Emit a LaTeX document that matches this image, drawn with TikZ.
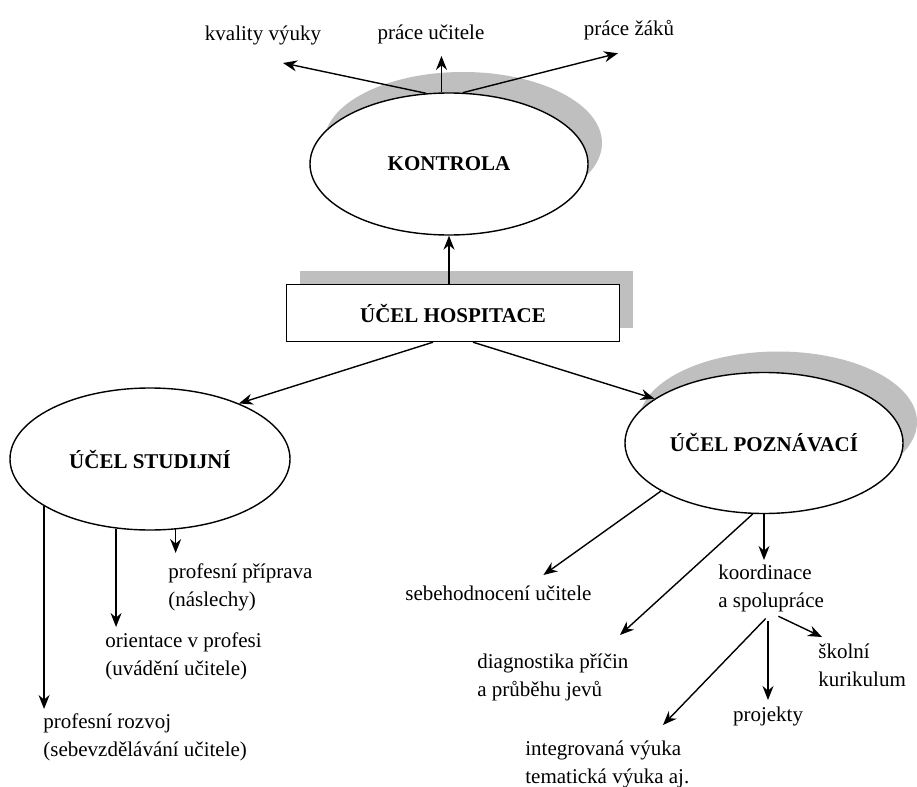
\documentclass[tikz,border=0pt]{standalone}
\usepackage{fontspec}
\setmainfont{Liberation Serif}
\usepackage{tikz}
\usetikzlibrary{shapes, arrows.meta, positioning, shadows}

\begin{document}
\begin{tikzpicture}[x=0.5pt, y=-0.5pt,
        arr/.style={-{Stealth[length=7pt, width=5.5pt]}, line width=0.7pt},
        ellnode/.style={ellipse, draw, fill=white, line width=0.7pt, inner sep=0pt,
            font=\fontsize{10.5}{13}\selectfont\bfseries},
        grayshadow/.style={drop shadow={shadow xshift=7pt, shadow yshift=10.5pt,
            fill=black!25, opacity=1}},
        lbl/.style={inner sep=0pt, align=left, font=\fontsize{10.5}{14}\selectfont}]

    \useasboundingbox (0,0) rectangle (917,787);

    % Nodes
    \node (kontrola) [ellnode, grayshadow, minimum width=139pt, minimum height=71pt] at (449,164) {KONTROLA};
    \node (hosp) [draw, fill=white, line width=0.7pt, minimum width=166.5pt, minimum height=28.5pt,
        font=\fontsize{10.5}{13}\selectfont\bfseries,
        drop shadow={shadow xshift=6.5pt, shadow yshift=7pt, fill=black!25, opacity=1}] at (453,313) {ÚČEL HOSPITACE};
    \node (stud) [ellnode, minimum width=140pt, minimum height=71pt] at (150,459) {ÚČEL STUDIJNÍ};
    \node (pozn) [ellnode, grayshadow, minimum width=139pt, minimum height=70.5pt] at (764,443) {ÚČEL POZNÁVACÍ};

    \node (kvality) [lbl] at (263,35) {kvality výuky};
    \node (ucitele) [lbl] at (431,34) {práce učitele};
    \node (zaku) [lbl] at (629,30) {práce žáků};

    \node (priprava) [lbl, anchor=north west] at (168,563) {profesní příprava\\(náslechy)};
    \node (orient) [lbl, anchor=north west] at (105,632) {orientace v profesi\\(uvádění učitele)};
    \node (rozvoj) [lbl, anchor=north west] at (43,713) {profesní rozvoj\\(sebevzdělávání učitele)};

    \node (sebe) [lbl, anchor=north west] at (405,585) {sebehodnocení učitele};
    \node (diag) [lbl, anchor=north west] at (477,653) {diagnostika příčin\\a průběhu jevů};
    \node (koord) [lbl, anchor=north west] at (718,565) {koordinace\\a spolupráce};
    \node (integ) [lbl, anchor=north west] at (525,740) {integrovaná výuka\\tematická výuka aj.};
    \node (proj) [lbl, anchor=north] at (768,707) {projekty};
    \node (skol) [lbl, anchor=north west] at (818,643) {školní\\kurikulum};

    % Edges
    \draw[arr] (kontrola.108) -- ([shift={(20,18)}]kvality.south);
    \draw[arr, shorten >=6pt] (kontrola.96) -- (kontrola.96 |- ucitele.south);
    \draw[arr] (kontrola.79) -- ([shift={(-11,13)}]zaku.south);

    \draw[arr] (hosp.north -| kontrola.south) -- (kontrola.south);
    \draw[arr] ([xshift=-10pt]hosp.south) -- (stud.32);
    \draw[arr] ([xshift=10pt]hosp.south) -- (pozn.158);

    \draw[arr, shorten >=2pt] (stud.204) -- (stud.204 |- rozvoj.north);
    \draw[arr, shorten >=2.5pt] (stud.244) -- (stud.244 |- orient.north);
    \draw[arr, shorten >=5pt] (stud.290) -- (stud.290 |- priprava.north);

    \draw[arr] (pozn.205) -- ([shift={(45,-10)}]sebe.north);
    \draw[arr] (pozn.261) -- ([shift={(143,-18)}]diag.north west);
    \draw[arr, shorten >=2.5pt] (pozn.south) -- (pozn.south |- koord.north);

    \draw[arr, shorten <=4pt] (koord.south) -- ([shift={(138,-15)}]integ.north west);
    \draw[arr, shorten <=4pt, shorten >=3.5pt] (proj.north |- koord.south) -- (proj.north);
    \draw[arr, shorten <=4pt] (koord.south) -- ([shift={(4,-6)}]skol.north west);
\end{tikzpicture}
\end{document}
